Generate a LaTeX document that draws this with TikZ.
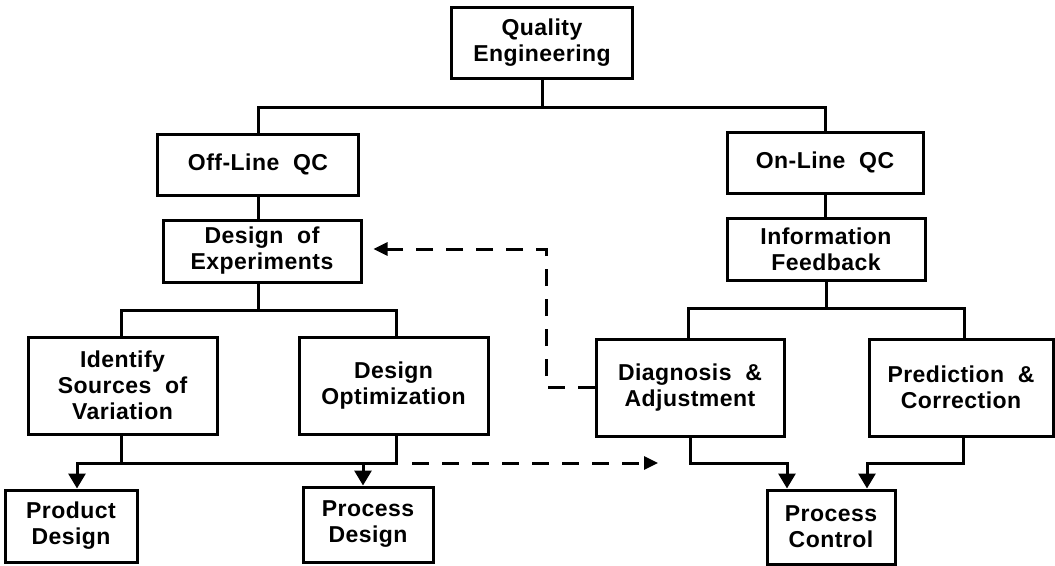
\documentclass[tikz,border=0pt]{standalone}
\usepackage{fontspec}
\setmainfont{Liberation Sans}[LetterSpace=2]
\usetikzlibrary{arrows.meta}
\begin{document}
\begin{tikzpicture}[x=1pt,y=-1pt,
  box/.style={draw, line width=3pt, align=center, inner sep=0pt,
    font=\fontsize{23}{26}\selectfont\bfseries},
  link/.style={line width=3pt},
  tip/.style={-{Triangle[length=15pt,width=17pt]}},
  dashlink/.style={line width=3pt, dash pattern=on 17pt off 13pt},
  dtip/.style={-{Triangle[length=14pt,width=13pt]}},
]
\useasboundingbox (0,0) rectangle (1055,565);

% boxes
\node[box, minimum width=181pt, minimum height=71pt] (qe)   at (542,42.5)  {Quality\\Engineering};
\node[box, minimum width=201pt, minimum height=61pt] (off)  at (258,164.5) {Off-Line\ \ QC};
\node[box, minimum width=196pt, minimum height=61pt] (on)   at (825,162.5) {On-Line\ \ QC};
\node[box, minimum width=198pt, minimum height=62pt] (doe)  at (262,251)   {Design\ \ of\\Experiments};
\node[box, minimum width=198pt, minimum height=62pt] (info) at (826,249)   {Information\\Feedback};
\node[box, minimum width=189pt, minimum height=97pt] (isv)  at (122.5,385.5) {Identify\\Sources\ \ of\\Variation};
\node[box, minimum width=189pt, minimum height=97pt] (dopt) at (393.5,385.5) {Design\\Optimization};
\node[box, minimum width=188pt, minimum height=97pt] (diag) at (690,387.5)   {Diagnosis\ \ \&\\Adjustment};
\node[box, minimum width=184pt, minimum height=97pt] (pred) at (961,387.5)   {Prediction\ \ \&\\Correction};
\node[box, minimum width=132pt, minimum height=72pt] (prod) at (71,526)    {Product\\Design};
\node[box, minimum width=130pt, minimum height=75pt] (proc) at (368,524.5) {Process\\Design};
\node[box, minimum width=128pt, minimum height=74pt] (pc)   at (831,527)   {Process\\Control};

% junction points of the tree
\coordinate (j1) at (542,107);
\coordinate (j2) at (258,310);
\coordinate (j3) at (826,308);
\coordinate (j4) at (396,463);
\coordinate (d0) at (412,463);
\coordinate (d1) at (658,463);
\coordinate (d2) at (546,249);

% solid connectors
\draw[link] (qe.south) -- (j1);
\draw[link] (off.north) |- (j1) -| (on.north);
\draw[link] (off.south) -- (off.south |- doe.north);
\draw[link] (on.south) -- (on.south |- info.north);
\draw[link] (j2 |- doe.south) -- (j2);
\draw[link] ([xshift=-1.5pt]isv.north) |- (j2) -| ([xshift=2.5pt]dopt.north);
\draw[link] (info.south) -- (j3);
\draw[link] ([xshift=-2pt]diag.north) |- (j3) -| ([xshift=3pt]pred.north);
\draw[link] ([xshift=-1.5pt]isv.south) -- ([xshift=-1.5pt]isv.south |- j4);
\draw[link, tip] (j4 |- dopt.south) -- (j4) -| ([xshift=6pt]prod.north);
\draw[link, tip] ([xshift=-5pt]proc.north |- j4) -- ([xshift=-5pt]proc.north);
\draw[link, tip] (diag.south) -- ++(0,26) -| ([xshift=-44pt]pc.north);
\draw[link, tip] ([xshift=2pt]pred.south) -- ++(0,26) -| ([xshift=36pt]pc.north);

% dashed feedback paths
\draw[dashlink, dtip] (d0) -- (d1);
\draw[dashlink, dtip, shorten >=11pt] (diag.west) -| (d2) -- (doe.east |- d2);
\end{tikzpicture}
\end{document}
